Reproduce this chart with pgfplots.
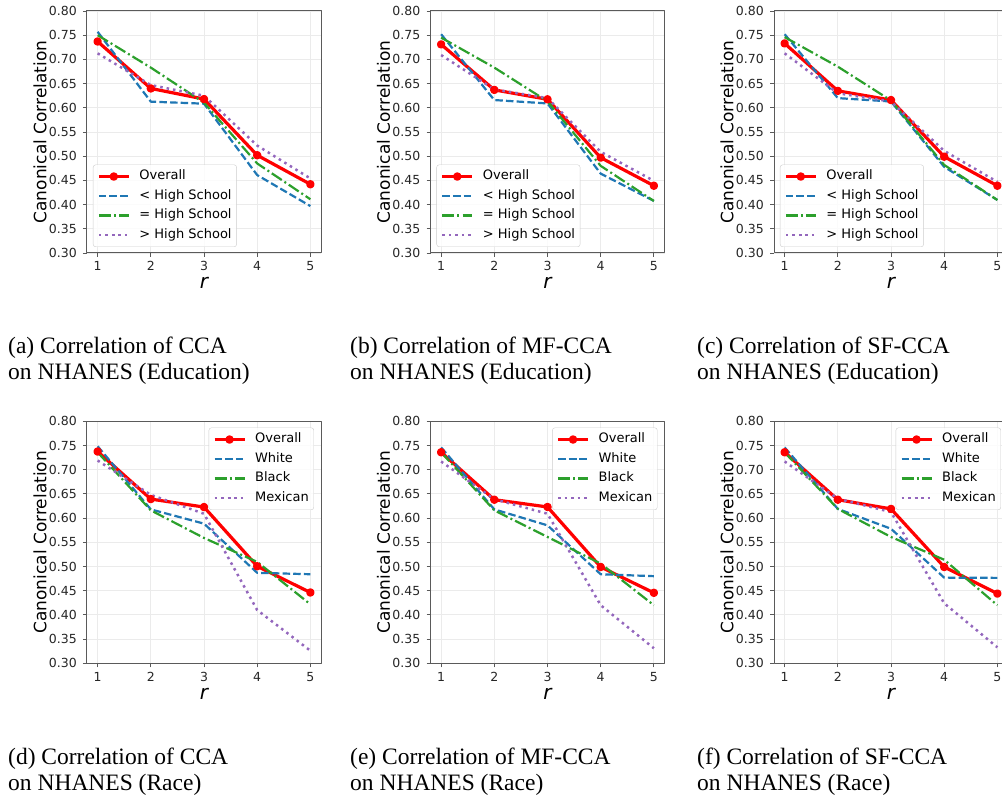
\documentclass[border=0pt]{standalone}
\usepackage{fontspec}
\setmainfont{Liberation Serif}
\newfontfamily\dejavu{DejaVu Sans}
\usepackage{pgfplots}
\pgfplotsset{compat=1.18}
\usepackage{pgfplotstable}

\definecolor{tabblue}{HTML}{1F77B4}
\definecolor{tabgreen}{HTML}{2CA02C}
\definecolor{tabpurple}{HTML}{9467BD}
\definecolor{spine}{HTML}{5A5A5A}
\definecolor{gridc}{HTML}{EBEBEB}

% columns: r, overall, group1, group2, group3
\pgfplotstableread{
r  ov    g1     g2     g3
1  0.737 0.757  0.750  0.7125
2  0.640 0.6127 0.683  0.647
3  0.618 0.6085 0.6106 0.625
4  0.502 0.461  0.485  0.522
5  0.442 0.397  0.411  0.454
}\tabA
\pgfplotstableread{
r  ov    g1     g2     g3
1  0.731 0.752  0.745  0.709
2  0.637 0.616  0.683  0.638
3  0.6175 0.609 0.6134 0.620
4  0.497 0.464  0.480  0.509
5  0.439 0.4075 0.4075 0.449
}\tabB
\pgfplotstableread{
r  ov    g1     g2     g3
1  0.733 0.752  0.746  0.7125
2  0.635 0.620  0.685  0.630
3  0.616 0.613  0.615  0.613
4  0.499 0.478  0.482  0.511
5  0.439 0.4095 0.4095 0.447
}\tabC
\pgfplotstableread{
r  ov     g1     g2     g3
1  0.7375 0.7485 0.736  0.719
2  0.6393 0.618  0.616  0.648
3  0.6228 0.5885 0.559  0.609
4  0.5005 0.487  0.5095 0.410
5  0.4463 0.484  0.422  0.326
}\tabD
\pgfplotstableread{
r  ov     g1     g2     g3
1  0.736  0.746  0.736  0.717
2  0.638  0.618  0.616  0.639
3  0.623  0.585  0.561  0.609
4  0.499  0.484  0.506  0.420
5  0.4456 0.480  0.420  0.331
}\tabE
\pgfplotstableread{
r  ov     g1     g2     g3
1  0.736  0.746  0.736  0.717
2  0.638  0.619  0.619  0.640
3  0.619  0.578  0.561  0.6125
4  0.499  0.477  0.514  0.424
5  0.444  0.4765 0.420  0.333
}\tabF

\pgfplotsset{
  ccapanel/.style={
    scale only axis, width=234pt, height=242pt,
    xmin=0.8, xmax=5.2, ymin=0.3, ymax=0.8,
    xtick={1,2,3,4,5},
    ytick={0.30,0.35,0.40,0.45,0.50,0.55,0.60,0.65,0.70,0.75,0.80},
    /pgf/number format/assume math mode=true,
    yticklabel style={/pgf/number format/fixed, /pgf/number format/fixed zerofill,
      /pgf/number format/precision=2, anchor=east, inner sep=0pt, xshift=-6pt},
    xticklabel style={anchor=base, inner sep=0pt, yshift=-14pt},
    ticklabel style={font=\dejavu\fontsize{12.5}{15}\selectfont, text=black!85},
    tick pos=left, tick align=outside, major tick length=4pt,
    tick style={spine, line width=0.8pt},
    axis line style={spine, line width=1pt},
    grid=major, major grid style={gridc, line width=0.8pt},
    xlabel={\itshape r},
    xlabel style={font=\dejavu\fontsize{20}{22}\selectfont, at={(axis description cs:0.5,0)}, anchor=base, yshift=-36pt},
    ylabel={Canonical Correlation},
    ylabel style={font=\dejavu\fontsize{17}{20}\selectfont, at={(axis description cs:-0.201,0.5)}, anchor=center},
    legend image code/.code={\draw[mark repeat=2, mark phase=2, #1] plot coordinates {(0pt,0pt) (15pt,0pt) (30pt,0pt)};},
    legend style={draw=gray!40, rounded corners=2.5pt, fill=white, fill opacity=0.8, text opacity=1,
      font=\dejavu\fontsize{13}{15}\selectfont, cells={anchor=west},
      nodes={inner sep=1pt, text height=9.5pt, text depth=3pt},
      inner xsep=4pt, inner ysep=4.5pt, row sep=5pt, column sep=8pt},
    line join=round,
  },
  legA/.style={legend style={at={(0.0256,0.0248)}, anchor=south west}},
  legD/.style={legend style={at={(0.970,0.974)}, anchor=north east}},
  sov/.style={red, line width=3.2pt, mark=*, mark size=2.6pt, mark options={solid}},
  sg1/.style={tabblue, line width=2.2pt, dash pattern=on 7.5pt off 3.2pt},
  sg2/.style={tabgreen, line width=2.2pt, dash pattern=on 12pt off 3.2pt on 2pt off 3.2pt},
  sg3/.style={tabpurple, line width=2.5pt, dash pattern=on 2.5pt off 4pt},
}

\begin{document}
\begin{tikzpicture}[x=1pt, y=1pt]
  \def\capfont{\fontsize{23.5}{26}\selectfont}
  % top row: education
  \begin{axis}[ccapanel, legA, at={(87pt,542pt)}, anchor=south west]
    \addplot[sov] table[x=r, y=ov] {\tabA}; \addlegendentry{Overall}
    \addplot[sg1] table[x=r, y=g1] {\tabA}; \addlegendentry{< High School}
    \addplot[sg2] table[x=r, y=g2] {\tabA}; \addlegendentry{= High School}
    \addplot[sg3] table[x=r, y=g3] {\tabA}; \addlegendentry{> High School}
  \end{axis}
  \begin{axis}[ccapanel, legA, at={(430.5pt,542pt)}, anchor=south west]
    \addplot[sov] table[x=r, y=ov] {\tabB}; \addlegendentry{Overall}
    \addplot[sg1] table[x=r, y=g1] {\tabB}; \addlegendentry{< High School}
    \addplot[sg2] table[x=r, y=g2] {\tabB}; \addlegendentry{= High School}
    \addplot[sg3] table[x=r, y=g3] {\tabB}; \addlegendentry{> High School}
  \end{axis}
  \begin{axis}[ccapanel, legA, at={(774pt,542pt)}, anchor=south west]
    \addplot[sov] table[x=r, y=ov] {\tabC}; \addlegendentry{Overall}
    \addplot[sg1] table[x=r, y=g1] {\tabC}; \addlegendentry{< High School}
    \addplot[sg2] table[x=r, y=g2] {\tabC}; \addlegendentry{= High School}
    \addplot[sg3] table[x=r, y=g3] {\tabC}; \addlegendentry{> High School}
  \end{axis}
  % bottom row: race
  \begin{axis}[ccapanel, legD, at={(87pt,131.7pt)}, anchor=south west]
    \addplot[sov] table[x=r, y=ov] {\tabD}; \addlegendentry{Overall}
    \addplot[sg1] table[x=r, y=g1] {\tabD}; \addlegendentry{White}
    \addplot[sg2] table[x=r, y=g2] {\tabD}; \addlegendentry{Black}
    \addplot[sg3] table[x=r, y=g3] {\tabD}; \addlegendentry{Mexican}
  \end{axis}
  \begin{axis}[ccapanel, legD, at={(430.5pt,131.7pt)}, anchor=south west]
    \addplot[sov] table[x=r, y=ov] {\tabE}; \addlegendentry{Overall}
    \addplot[sg1] table[x=r, y=g1] {\tabE}; \addlegendentry{White}
    \addplot[sg2] table[x=r, y=g2] {\tabE}; \addlegendentry{Black}
    \addplot[sg3] table[x=r, y=g3] {\tabE}; \addlegendentry{Mexican}
  \end{axis}
  \begin{axis}[ccapanel, legD, at={(774pt,131.7pt)}, anchor=south west]
    \addplot[sov] table[x=r, y=ov] {\tabF}; \addlegendentry{Overall}
    \addplot[sg1] table[x=r, y=g1] {\tabF}; \addlegendentry{White}
    \addplot[sg2] table[x=r, y=g2] {\tabF}; \addlegendentry{Black}
    \addplot[sg3] table[x=r, y=g3] {\tabF}; \addlegendentry{Mexican}
  \end{axis}
  % captions
  \foreach \cx/\lab/\meth in {8/a/CCA, 350/b/MF-CCA, 697/c/SF-CCA}{
    \node[anchor=base west, inner sep=0pt, font=\capfont] at (\cx,441) {(\lab) Correlation of \meth};
    \node[anchor=base west, inner sep=0pt, font=\capfont] at (\cx,415) {on NHANES (Education)};
  }
  \foreach \cx/\lab/\meth in {8/d/CCA, 350/e/MF-CCA, 697/f/SF-CCA}{
    \node[anchor=base west, inner sep=0pt, font=\capfont] at (\cx,30) {(\lab) Correlation of \meth};
    \node[anchor=base west, inner sep=0pt, font=\capfont] at (\cx,4) {on NHANES (Race)};
  }
  \pgfresetboundingbox
  \useasboundingbox (0,0) rectangle (1002,795);
\end{tikzpicture}
\end{document}
